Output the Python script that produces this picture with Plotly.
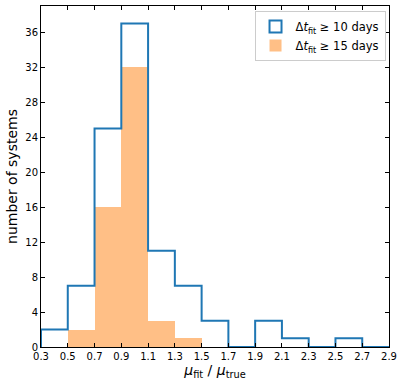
import plotly.graph_objects as go

# histogram bins (mu_fit / mu_true)
bin_edges = [0.3, 0.5, 0.7, 0.9, 1.1, 1.3, 1.5, 1.7, 1.9, 2.1, 2.3, 2.5, 2.7, 2.9]
counts_10 = [2, 7, 25, 37, 11, 7, 3, 0, 3, 1, 0, 1, 0]
counts_15 = [0, 2, 16, 32, 3, 1, 0, 0, 0, 0, 0, 0, 0]
x_ticks = [0.3, 0.5, 0.7, 0.9, 1.1, 1.3, 1.5, 1.7, 1.9, 2.1, 2.3, 2.5, 2.7, 2.9]
y_ticks = [0, 4, 8, 12, 16, 20, 24, 28, 32, 36]

blue = '#1f77b4'
orange = 'rgba(255,127,14,0.5)'

centers = [(a + b) / 2 for a, b in zip(bin_edges[:-1], bin_edges[1:])]
widths = [b - a for a, b in zip(bin_edges[:-1], bin_edges[1:])]

fig = go.Figure()

# filled histogram (>= 15 days)
fig.add_trace(go.Bar(x=centers, y=counts_15, width=widths, marker_color=orange,
                     marker_line_width=0, showlegend=False))

# step outline (>= 10 days)
step_x = [bin_edges[0]] + bin_edges
step_y = [0] + counts_10 + [0]
fig.add_trace(go.Scatter(x=step_x, y=step_y, mode='lines', line_shape='hv',
                         line=dict(color=blue, width=2), showlegend=False))

# legend proxies
fig.add_trace(go.Bar(x=[None], y=[None], name='Δ<i>t</i><sub>fit</sub> ≥ 10 days',
                     marker=dict(color='white', line=dict(color=blue, width=2))))
fig.add_trace(go.Bar(x=[None], y=[None], name='Δ<i>t</i><sub>fit</sub> ≥ 15 days',
                     marker=dict(color=orange, line_width=0)))

axis_common = dict(showline=True, linecolor='black', linewidth=1, mirror='ticks',
                   ticks='inside', ticklen=4, tickcolor='black', showgrid=False,
                   zeroline=False, automargin=False,
                   tickfont=dict(size=10, color='black'))

fig.update_layout(
    width=404, height=385,
    margin=dict(l=41, r=15, t=6, b=38),
    plot_bgcolor='white', paper_bgcolor='white',
    font=dict(family='DejaVu Sans', color='black'),
    barmode='overlay', bargap=0,
    xaxis=dict(range=[0.3, 2.9], tickvals=x_ticks, ticktext=[f'{v:.1f}' for v in x_ticks],
               title=dict(text='<i>μ</i><sub>fit</sub> / <i>μ</i><sub>true</sub>',
                          font=dict(size=14), standoff=2),
               **axis_common),
    yaxis=dict(range=[0, 39], tickvals=y_ticks,
               title=dict(text='number of systems', font=dict(size=14), standoff=4),
               **axis_common),
    legend=dict(x=0.99, y=0.985, xanchor='right', yanchor='top',
                bordercolor='#cccccc', borderwidth=1, bgcolor='white',
                font=dict(size=11.5), tracegroupgap=2),
)

fig.write_html("out.html", config={'displayModeBar': False},
               post_script="document.body.style.margin = '0';")
